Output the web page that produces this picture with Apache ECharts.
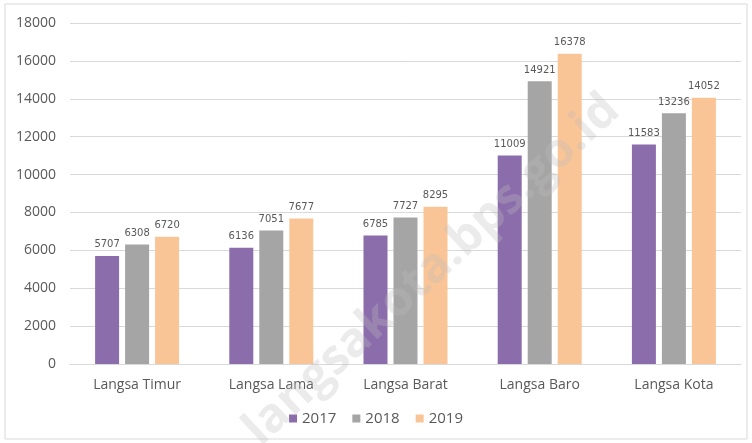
<!DOCTYPE html>
<html>
<head>
<meta charset="utf-8">
<script src="https://cdn.jsdelivr.net/npm/echarts@6/dist/echarts.min.js"></script>
<style>
  html, body { margin: 0; padding: 0; background: #fff; }
  #chart { width: 752px; height: 443px; }
</style>
</head>
<body>
<div id="chart"></div>
<script>
var categories = ['Langsa Timur', 'Langsa Lama', 'Langsa Barat', 'Langsa Baro', 'Langsa Kota'];
var years = ['2017', '2018', '2019'];
var values2017 = [5707, 6136, 6785, 11009, 11583];
var values2018 = [6308, 7051, 7727, 14921, 13236];
var values2019 = [6720, 7677, 8295, 16378, 14052];
var colors = ['#8c6dab', '#a5a5a5', '#f9c597'];

var chart = echarts.init(document.getElementById('chart'), null, { renderer: 'canvas' });

var labelStyle = {
  show: true,
  position: 'top',
  distance: 6,
  color: '#595959',
  fontSize: 10,
  fontFamily: 'DejaVu Sans'
};

var seriesData = [values2017, values2018, values2019];

chart.setOption({
  animation: false,
  color: colors,
  textStyle: { fontFamily: 'Open Sans' },
  graphic: [
    {
      type: 'rect',
      shape: { x: 5, y: 4, width: 742, height: 435 },
      style: { fill: 'none', stroke: '#d9d9d9', lineWidth: 1 },
      silent: true
    },
    {
      type: 'text',
      x: 432, y: 270,
      rotation: Math.PI / 4 * 0.95,
      style: {
        text: 'langsakota.bps.go.id',
        fontSize: 48,
        fontWeight: 'bold',
        fontFamily: 'Open Sans',
        fill: 'rgba(190,190,190,0.3)',
        align: 'center',
        verticalAlign: 'middle'
      },
      z: 100,
      silent: true
    }
  ],
  grid: { left: 70, right: 11, top: 23, bottom: 79 },
  legend: {
    bottom: 12,
    left: 'center',
    itemWidth: 8,
    itemHeight: 8,
    itemGap: 16,
    icon: 'rect',
    textStyle: { color: '#595959', fontSize: 15 },
    data: years
  },
  xAxis: {
    type: 'category',
    data: categories,
    axisLine: { lineStyle: { color: '#d9d9d9' } },
    axisTick: { show: false },
    axisLabel: { color: '#595959', fontSize: 14, margin: 14 }
  },
  yAxis: {
    type: 'value',
    min: 0,
    max: 18000,
    interval: 2000,
    axisLine: { show: false },
    axisTick: { show: false },
    axisLabel: {
      color: '#595959', fontSize: 14, margin: 14,
      formatter: function (v) { return String(v); }
    },
    splitLine: { lineStyle: { color: '#d9d9d9' } }
  },
  series: years.map(function (y, i) {
    return {
      name: y,
      type: 'bar',
      data: seriesData[i],
      barWidth: 24,
      barGap: '25%',
      label: labelStyle
    };
  })
});
</script>
</body>
</html>
